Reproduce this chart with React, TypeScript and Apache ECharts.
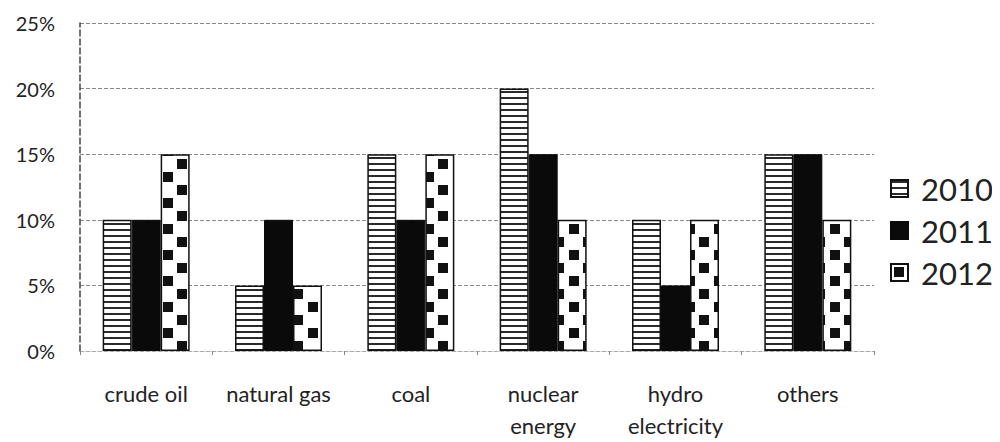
import React, { useEffect, useRef } from "react";
import * as echarts from "echarts";

const categories = ["crude oil", "natural gas", "coal", "nuclear\nenergy", "hydro\nelectricity", "others"];
const years = ["2010", "2011", "2012"];
const values2010 = [10, 5, 15, 20, 10, 15];
const values2011 = [10, 10, 10, 15, 5, 15];
const values2012 = [15, 5, 15, 10, 10, 10];
const yTicks = [0, 5, 10, 15, 20, 25];

const FONT = "Lato, 'Open Sans', sans-serif";
const BAR_W = 29;

function stripeTile() {
  const c = document.createElement("canvas");
  c.width = 6;
  c.height = 6;
  const ctx = c.getContext("2d")!;
  ctx.fillStyle = "#fff";
  ctx.fillRect(0, 0, 6, 6);
  ctx.fillStyle = "#2a2a2a";
  ctx.fillRect(0, 1, 6, 2);
  return { src: c.toDataURL(), w: 6, h: 6 };
}

function checkTile() {
  const c = document.createElement("canvas");
  c.width = 29;
  c.height = 26;
  const ctx = c.getContext("2d")!;
  ctx.fillStyle = "#fff";
  ctx.fillRect(0, 0, 29, 26);
  ctx.fillStyle = "#111";
  ctx.fillRect(3, 3, 10, 10);
  ctx.fillRect(18, 16, 10, 10);
  return { src: c.toDataURL(), w: 29, h: 26 };
}

export default function App() {
  const ref = useRef<HTMLDivElement>(null);
  useEffect(() => {
    if (!ref.current) return;
    const chart = echarts.init(ref.current, null, { renderer: "svg" });
    const stripe = stripeTile();
    const check = checkTile();
    const pat = (t: { src: string; w: number; h: number }, x?: number, y?: number) => {
      const p: any = { image: t.src, repeat: "repeat", imageWidth: t.w, imageHeight: t.h };
      if (x !== undefined) p.x = x;
      if (y !== undefined) p.y = y;
      return p;
    };
    const base = {
      type: "bar",
      barWidth: BAR_W,
      barGap: "0%",
      barCategoryGap: "33%",
    };
    const border = { borderColor: "#111", borderWidth: 1.5 };
    const buildSeries = (offsets?: { xs: number[][]; y0: number }) => [
      {
        ...base,
        name: years[0],
        data: values2010.map((v, i) =>
          offsets ? { value: v, itemStyle: { color: pat(stripe, offsets.xs[0][i], offsets.y0) } } : v
        ),
        itemStyle: { color: pat(stripe), ...border },
      },
      {
        ...base,
        name: years[1],
        data: values2011,
        itemStyle: { color: "#0a0a0a", borderColor: "#0a0a0a", borderWidth: 1 },
      },
      {
        ...base,
        name: years[2],
        data: values2012.map((v, i) =>
          offsets ? { value: v, itemStyle: { color: pat(check, offsets.xs[2][i], offsets.y0) } } : v
        ),
        itemStyle: { color: pat(check), ...border },
      },
    ];
    chart.setOption({
      animation: false,
      backgroundColor: "#fff",
      grid: { left: 80, right: 126, top: 23, bottom: 91, containLabel: false, outerBoundsMode: "none" },
      legend: {
        orient: "vertical",
        left: 885,
        top: 168,
        icon: "rect",
        itemWidth: 17,
        itemHeight: 17,
        itemGap: 11,
        data: years,
        textStyle: { fontFamily: FONT, fontSize: 31, color: "#222", padding: [0, 0, 0, 8] },
      },
      xAxis: {
        type: "category",
        data: categories,
        axisLine: { show: true, lineStyle: { color: "#aaa", type: "dashed", width: 1 } },
        axisTick: { show: true, length: 4, lineStyle: { color: "#888" } },
        axisLabel: {
          fontFamily: FONT,
          fontSize: 22,
          color: "#222",
          margin: 26,
          lineHeight: 32,
          interval: 0,
        },
      },
      yAxis: {
        type: "value",
        min: yTicks[0],
        max: yTicks[yTicks.length - 1],
        interval: 5,
        axisLine: { show: true, lineStyle: { color: "#444", type: "dashed", width: 1.5 } },
        axisTick: { show: false },
        splitLine: { show: true, lineStyle: { color: "#888", type: "dashed", width: 1 } },
        axisLabel: {
          formatter: "{value}%",
          fontFamily: FONT,
          fontSize: 20,
          color: "#222",
          margin: 25,
        },
      },
      graphic: [
        {
          type: "line",
          shape: { x1: 0, y1: 3, x2: 1000, y2: 3 },
          style: { stroke: "#999", lineWidth: 1.5 },
        },
      ],
      series: buildSeries(),
    });
    // align the fill patterns with each bar's left/bottom edge, using the chart's own scales
    const y0 = Math.round(chart.convertToPixel({ yAxisIndex: 0 }, 0) as number);
    const xs = [0, 1, 2].map((s) =>
      categories.map((c) => {
        const cx = chart.convertToPixel({ xAxisIndex: 0 }, c) as number;
        return Math.round(cx - 1.5 * BAR_W + s * BAR_W);
      })
    );
    chart.setOption({ series: buildSeries({ xs, y0 }) });
    return () => chart.dispose();
  }, []);
  return <div ref={ref} style={{ width: 1000, height: 442, marginLeft: -8, marginTop: -8 }} />;
}
